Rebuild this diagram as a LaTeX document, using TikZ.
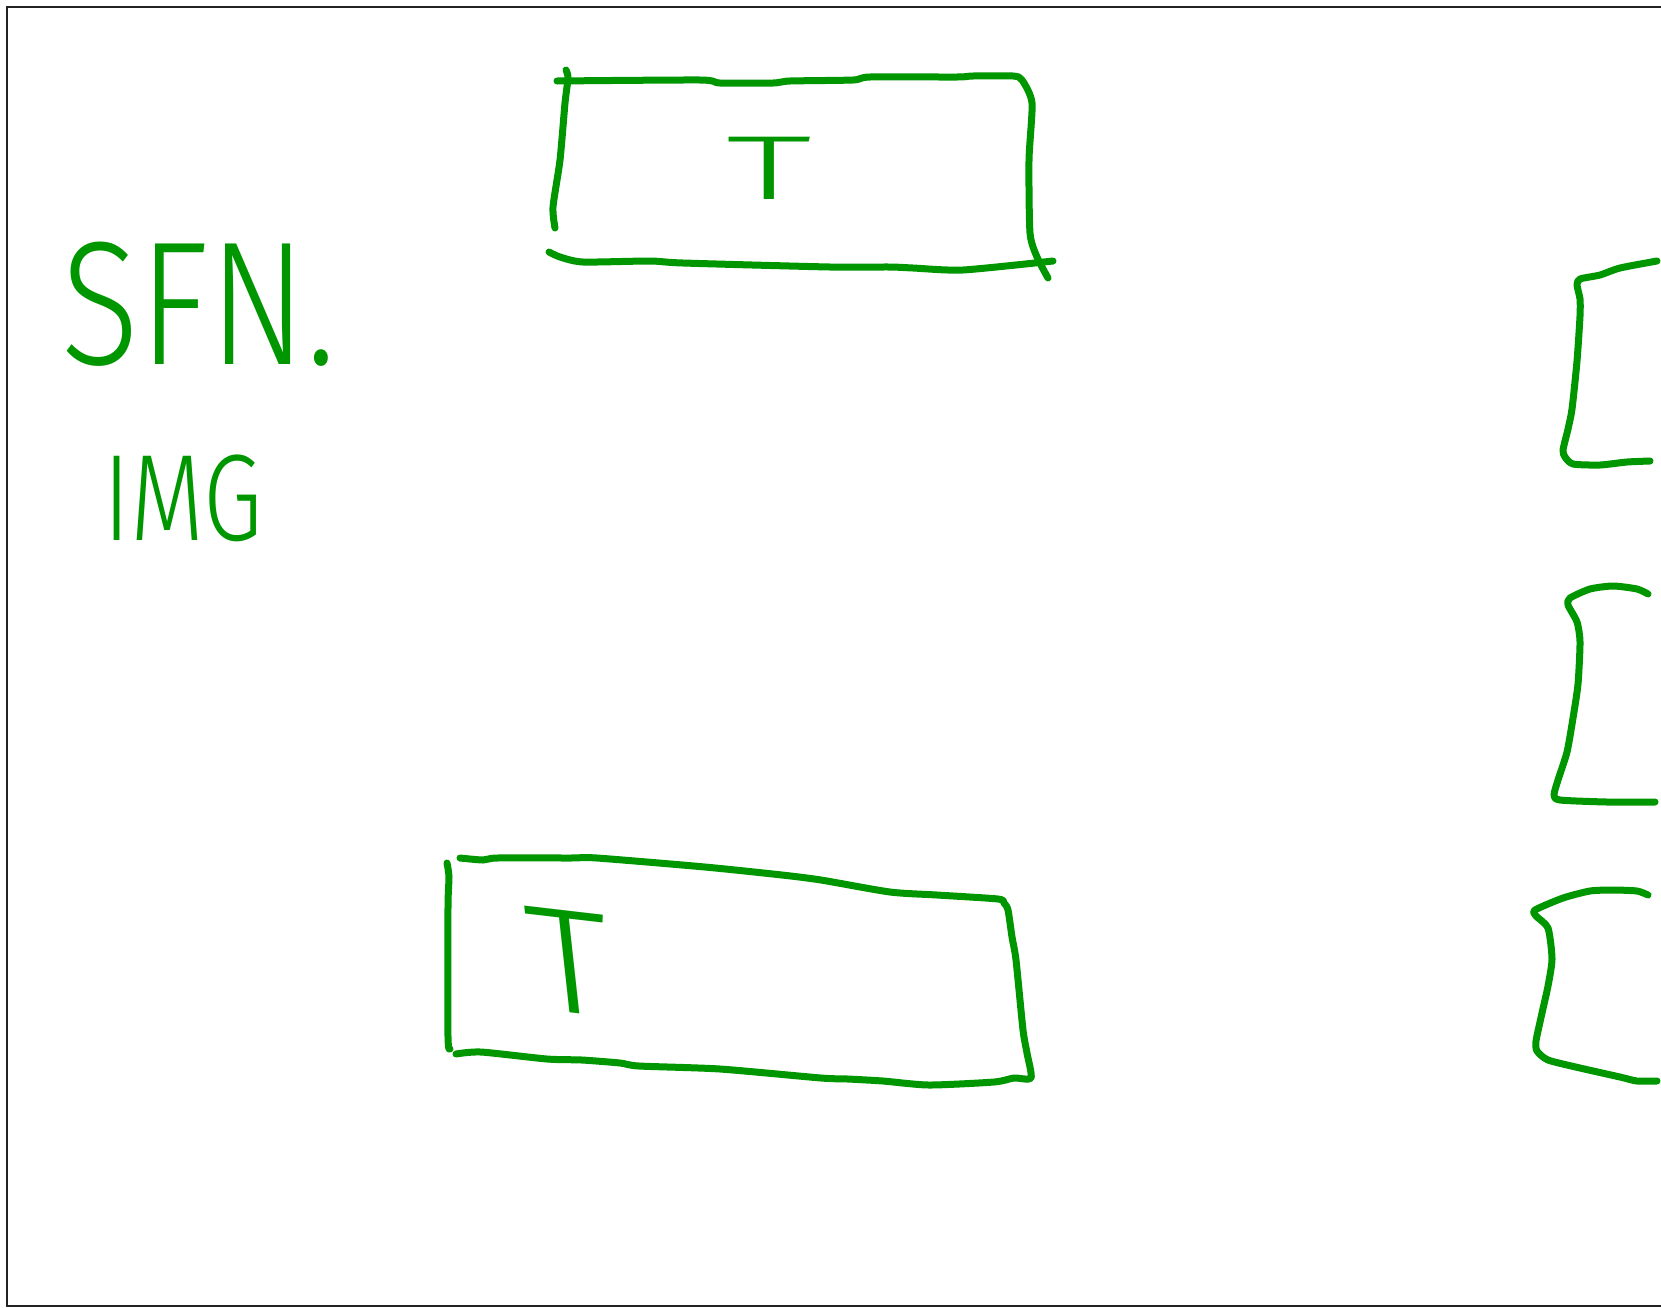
\documentclass[tikz,border=0pt]{standalone}
\usepackage{fontspec}
\newfontfamily\handfont{Fira Sans Light}
\usetikzlibrary{positioning}
\definecolor{InkGreen}{HTML}{009600}
\definecolor{FrameGray}{HTML}{222222}
\tikzset{
  ink/.style={draw=InkGreen, line width=7pt, line cap=round, line join=round},
  inkline/.style={smooth, tension=0.4},
  frame/.style={draw=FrameGray, line width=1.3pt},
  handtext/.style={text=InkGreen, inner sep=0pt},
  bigletter/.style={handtext, font={\handfont\fontsize{#1}{#1}\selectfont}}
}

\begin{document}
\begin{tikzpicture}[x=1pt, y=-1pt]
\useasboundingbox (0,0) rectangle (1661,1307);
\fill[white] (0,0) rectangle (1661,1307);

\draw[frame] (1680,7) -- (7,7) -- (7,1306) -- (1680,1306);

\node[bigletter=176pt, xscale=0.82] (sfn) at (199,304) {SFN.};
\node[bigletter=123pt, xscale=0.78] (img) at (183,498) {IMG};

\draw[ink] plot[inkline] coordinates {(566,70) (568,78) (565,103) (560,160) (553,207) (555,228)};
\draw[ink] plot[inkline] coordinates {(557,81) (700,80) (720,83) (773,83) (790,81) (853,80) (870,77) (957,77) (973,76) (1013,76) (1022,80) (1032,103) (1029,160) (1030,233) (1037,257) (1048,278)};
\draw[ink] plot[inkline] coordinates {(549,252) (560,257) (583,262) (650,261) (683,263) (830,267) (890,267) (913,268) (963,270) (1053,261)};
\node[bigletter=91pt, xscale=1.9] (ttop) at (769,168) {T};

\draw[ink] plot[inkline] coordinates {(447,863) (449,877) (448,907) (448,1037) (450,1049)};
\draw[ink] plot[inkline] coordinates {(460,858) (483,860) (497,858) (570,858) (597,858) (705,867) (782,875) (821,880) (890,892) (937,895) (998,899) (1004,903) (1008,910) (1012,937) (1016,960) (1023,1030) (1027,1053) (1031,1078) (1014,1078) (994,1082) (929,1085) (883,1081) (848,1079) (821,1078) (720,1069) (639,1066) (620,1063) (582,1060) (547,1059) (481,1052) (456,1054)};
\node[bigletter=150pt, xscale=1.1, xslant=-0.1, yslant=-0.13] (tbottom) at (569,962) {T};

\draw[ink] plot[inkline] coordinates {(1657,261) (1620,268) (1600,275) (1580,279) (1577,285) (1580,299) (1580,316) (1577,361) (1572,409) (1568,429) (1563,450) (1565,457) (1573,464) (1600,465) (1627,462) (1650,461)};
\draw[ink] plot[inkline] coordinates {(1648,594) (1637,589) (1613,586) (1590,589) (1570,598) (1568,605) (1577,622) (1580,642) (1578,684) (1573,718) (1567,752) (1558,780) (1554,795) (1560,800) (1607,802) (1655,802)};
\draw[ink] plot[inkline] coordinates {(1648,895) (1637,891) (1613,890) (1590,891) (1563,898) (1535,910) (1536,916) (1548,928) (1552,959) (1548,986) (1542,1013) (1536,1041) (1537,1051) (1548,1060) (1580,1068) (1620,1077) (1637,1081) (1657,1081)};

\end{tikzpicture}
\end{document}
